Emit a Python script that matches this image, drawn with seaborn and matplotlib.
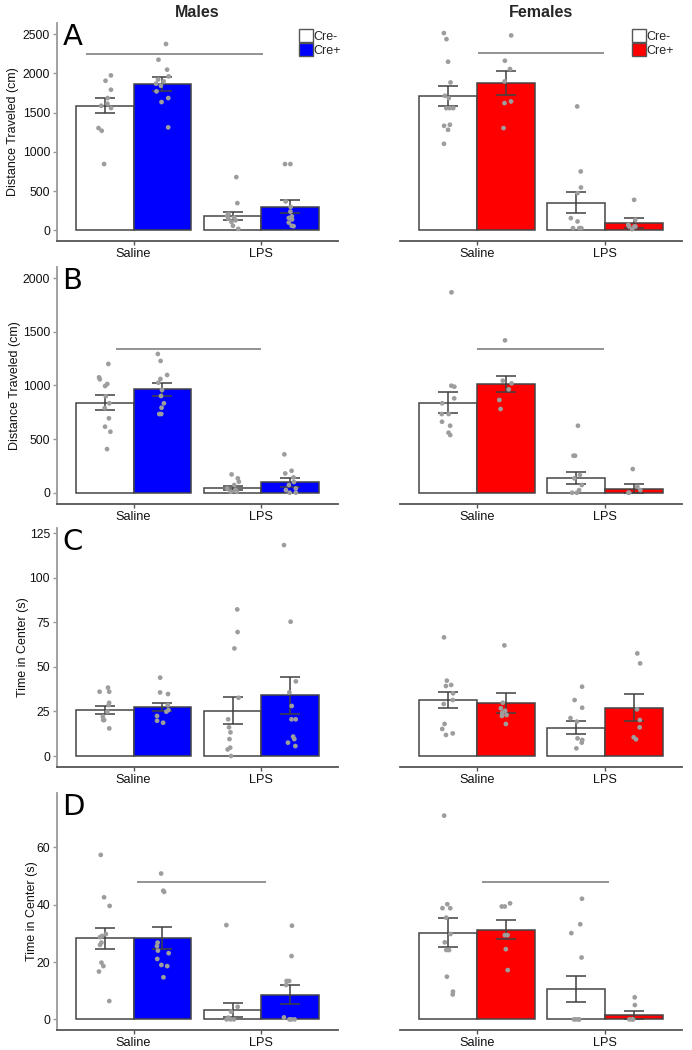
import numpy as np
import pandas as pd
import matplotlib.pyplot as plt
import seaborn as sns
from matplotlib.patches import Patch

sns.set_theme(style="ticks")
plt.rcParams['font.family'] = ['Liberation Sans', 'DejaVu Sans']

treatments = ["Saline", "LPS"]
genotypes = ["Cre-", "Cre+"]
# bar / point order in every list: Saline Cre-, Saline Cre+, LPS Cre-, LPS Cre+

# A - distance traveled, day 1
a_m_mean = [1590, 1863, 182, 302]
a_m_sem = [90, 85, 47, 80]
a_m_pts = [[1973, 1905, 1791, 1685, 1613, 1587, 1558, 1303, 1269, 845],
           [2373, 2173, 2046, 1961, 1920, 1897, 1868, 1842, 1770, 1685, 1634, 1312],
           [679, 348, 210, 185, 165, 150, 130, 110, 60, 20],
           [845, 845, 370, 300, 240, 180, 160, 140, 100, 60, 55]]
a_f_mean = [1706, 1875, 356, 95]
a_f_sem = [128, 148, 128, 60]
a_f_pts = [[2512, 2435, 2147, 1884, 1714, 1684, 1557, 1557, 1557, 1345, 1332, 1281, 1103],
           [2482, 2160, 2054, 1897, 1642, 1621, 1303],
           [1578, 751, 547, 475, 157, 115, 30, 30, 30],
           [390, 136, 72, 51, 51, 51, 17]]

# B - distance traveled, day 2
b_m_mean = [840, 964, 42, 100]
b_m_sem = [67, 58, 19, 42]
b_m_pts = [[1201, 1076, 1058, 1014, 995, 900, 834, 790, 694, 616, 569, 407],
           [1294, 1229, 1098, 1061, 1026, 958, 902, 834, 793, 734, 734],
           [171, 134, 103, 72, 40, 25, 20, 10, 9],
           [358, 205, 180, 143, 100, 72, 40, 25, 0, 0]]
b_f_mean = [840, 1016, 138, 38]
b_f_sem = [101, 75, 59, 39]
b_f_pts = [[1869, 998, 989, 880, 834, 734, 734, 662, 625, 560, 538],
           [1421, 1045, 1020, 964, 865, 781],
           [625, 345, 345, 165, 134, 72, 25, 0, 0],
           [221, 56, 25, 0, 0]]

# C - time in center, day 1
c_m_mean = [26.0, 27.5, 25.5, 34.0]
c_m_sem = [2.2, 2.3, 7.4, 10.3]
c_m_pts = [[38.4, 36.1, 36.1, 29.9, 28.6, 24.9, 22.1, 20.2, 20.2, 15.5],
           [44.0, 35.7, 34.8, 28.6, 25.8, 24.9, 22.5, 19.8, 18.7],
           [82.3, 69.6, 60.4, 32.7, 20.6, 16.1, 13.3, 9.5, 4.7, 3.7, 0.0],
           [118.4, 75.4, 41.9, 35.7, 28.1, 20.6, 20.6, 10.9, 9.5, 7.5, 5.6]]
c_f_mean = [31.4, 29.5, 16.0, 27.2]
c_f_sem = [4.5, 5.6, 3.5, 7.5]
c_f_pts = [[66.6, 42.3, 39.9, 39.3, 35.2, 31.4, 29.2, 18.0, 15.2, 12.7, 11.8],
           [62.1, 29.9, 26.8, 25.4, 24.3, 23.0, 22.5, 18.0],
           [38.9, 31.4, 27.1, 21.3, 19.3, 9.9, 9.0, 7.5, 4.3],
           [57.6, 52.0, 26.2, 20.2, 16.1, 10.5, 9.4]]

# D - time in center, day 2
d_m_mean = [28.3, 28.4, 3.2, 8.6]
d_m_sem = [3.7, 3.75, 2.5, 3.4]
d_m_pts = [[57.4, 42.6, 39.6, 29.8, 29.1, 28.7, 26.8, 26.0, 19.8, 18.6, 16.7, 6.4],
           [50.9, 44.9, 44.5, 26.8, 25.6, 24.0, 23.1, 21.1, 19.0, 18.6, 14.7],
           [32.9, 4.4, 2.7, 0.6, 0.0, 0.0, 0.0],
           [32.7, 22.1, 13.4, 13.4, 12.0, 0.7, 0.0, 0.0, 0.0]]
d_f_mean = [30.3, 31.3, 10.5, 1.5]
d_f_sem = [5.05, 3.35, 4.6, 1.45]
d_f_pts = [[71.1, 40.2, 38.8, 38.8, 35.5, 29.8, 26.9, 24.2, 24.2, 14.9, 9.7, 8.7],
           [40.5, 39.4, 39.4, 29.4, 29.4, 24.5, 17.2],
           [42.1, 33.2, 30.1, 21.6, 0.0, 0.0, 0.0, 0.0],
           [7.7, 5.0, 0.0, 0.0, 0.0]]

# significance bars: (x start, x end, y) in category units, per panel row
a_sig = [(-0.37, 1.01, 2250), (0.01, 0.99, 2255)]
b_sig = [(-0.14, 1.0, 1338), (0.0, 0.99, 1338)]
d_sig = [(0.03, 1.04, 47.9), (0.04, 1.03, 47.8)]

rows = [
    ("A", "Distance Traveled (cm)", [a_m_mean, a_f_mean], [a_m_sem, a_f_sem], [a_m_pts, a_f_pts],
     a_sig, (-130, 2640), [0, 500, 1000, 1500, 2000, 2500], -0.135),
    ("B", "Distance Traveled (cm)", [b_m_mean, b_f_mean], [b_m_sem, b_f_sem], [b_m_pts, b_f_pts],
     b_sig, (-105, 2105), [0, 500, 1000, 1500, 2000], -0.128),
    ("C", "Time in Center (s)", [c_m_mean, c_f_mean], [c_m_sem, c_f_sem], [c_m_pts, c_f_pts],
     None, (-6, 128), [0, 25, 50, 75, 100, 125], -0.10),
    ("D", "Time in Center (s)", [d_m_mean, d_f_mean], [d_m_sem, d_f_sem], [d_m_pts, d_f_pts],
     d_sig, (-3.7, 79), [0, 20, 40, 60], -0.068),
]

fill = [{"Cre-": "white", "Cre+": "#0000FF"}, {"Cre-": "white", "Cre+": "#FF0000"}]
pt_col = "#9d9d9d"
edge = "#454545"

W, H = 692, 1050
col_x = [(57, 338), (400, 682)]
row_y = [(23, 240.7), (267, 504), (528, 766.7), (793, 1030)]

fig = plt.figure(figsize=(6.92, 10.5), dpi=100)
np.random.seed(4)

for r, (letter, ylab, means, sems, pts, sig, ylim, yticks, labx) in enumerate(rows):
    for c in range(2):
        x0, x1 = col_x[c]
        top, bot = row_y[r]
        ax = fig.add_axes([x0 / W, 1 - bot / H, (x1 - x0) / W, (bot - top) / H])

        bar_df = pd.DataFrame({
            "treatment": [t for t in treatments for g in genotypes],
            "genotype": [g for t in treatments for g in genotypes],
            "value": means[c],
        })
        sns.barplot(data=bar_df, x="treatment", y="value", hue="genotype",
                    order=treatments, hue_order=genotypes, palette=fill[c],
                    saturation=1, width=0.9, errorbar=None, edgecolor=edge,
                    linewidth=1.1, legend=False, ax=ax)
        bar_conts = list(ax.containers)

        # error bars at the bar centres from seaborn
        for gi, cont in enumerate(bar_conts):
            for ti, bar in enumerate(cont):
                k = ti * 2 + gi
                cx = bar.get_x() + bar.get_width() / 2
                ax.errorbar(cx, means[c][k], yerr=sems[c][k], color="#404040",
                            capsize=7, elinewidth=1.1, capthick=1.1, zorder=3)

        pt_df = pd.DataFrame({
            "treatment": [treatments[k // 2] for k in range(4) for v in pts[c][k]],
            "genotype": [genotypes[k % 2] for k in range(4) for v in pts[c][k]],
            "value": [v for k in range(4) for v in pts[c][k]],
        })
        n_before = len(ax.collections)
        sns.stripplot(data=pt_df, x="treatment", y="value", hue="genotype",
                      order=treatments, hue_order=genotypes,
                      palette={"Cre-": pt_col, "Cre+": pt_col}, dodge=True,
                      jitter=0.09, size=3.4, legend=False, zorder=4, ax=ax)
        # widen the strip dodge so points sit on the 0.9-wide bar centres
        for coll in ax.collections[n_before:]:
            off = coll.get_offsets()
            if len(off):
                cat = np.round(off[:, 0].mean())
                off[:, 0] = cat + (off[:, 0] - cat) * 1.125
                coll.set_offsets(off)

        if sig is not None:
            s0, s1, sy = sig[c]
            ax.hlines(sy, s0, s1, color="#8a8a8a", lw=1.3, zorder=2)

        ax.set_xlim(-0.6, 1.6)
        ax.set_ylim(*ylim)
        ax.set_xlabel("")
        ax.tick_params(axis="x", length=3, width=1, color="#555555",
                       labelsize=9.2, labelcolor="#111111", pad=2)
        sns.despine(ax=ax)
        ax.spines["bottom"].set_color("#555555")
        ax.spines["bottom"].set_linewidth(1.3)

        if c == 0:
            ax.set_yticks(yticks)
            ax.tick_params(axis="y", length=3, width=1, color="#999999",
                           labelsize=8.8, labelcolor="#111111", pad=2)
            ax.spines["left"].set_color("#9a9a9a")
            ax.spines["left"].set_linewidth(1.3)
            ax.set_ylabel(ylab, fontsize=9, color="#111111")
            ax.yaxis.set_label_coords(labx, 0.5)
            ax.text(0.02, 1.0, letter, transform=ax.transAxes, ha="left", va="top",
                    fontsize=21, family="DejaVu Sans", color="black")
        else:
            ax.spines["left"].set_visible(False)
            ax.set_yticks([])
            ax.set_ylabel("")

        if r == 0:
            handles = [Patch(facecolor=fill[c][g], edgecolor="#555555", lw=1.0)
                       for g in genotypes]
            lx = (299 if c == 0 else 632) / W
            ax.legend(handles=handles, labels=genotypes, loc="upper left",
                      bbox_to_anchor=(lx, 1 - 29 / H), bbox_transform=fig.transFigure,
                      frameon=False, fontsize=9, handlelength=1.1, handleheight=1.25,
                      handletextpad=0.05, labelspacing=0.0, borderpad=0,
                      borderaxespad=0)

fig.text(197.5 / W, 1 - 12.7 / H, "Males", ha="center", va="center",
         fontsize=11.5, fontweight="bold")
fig.text(541 / W, 1 - 12.7 / H, "Females", ha="center", va="center",
         fontsize=11.5, fontweight="bold")

fig.savefig("out.png", dpi=100)
